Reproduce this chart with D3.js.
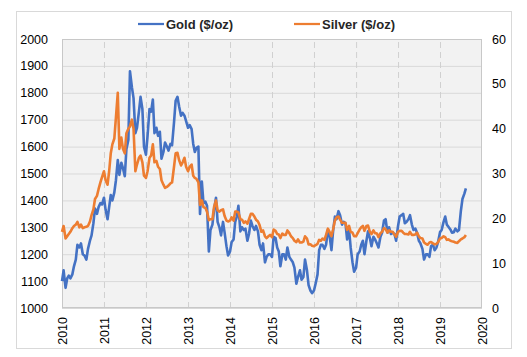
<!DOCTYPE html>
<html><head><meta charset="utf-8">
<script src="https://cdn.jsdelivr.net/npm/d3@7"></script>
<style>body{margin:0;background:#fff}svg{display:block}text{font-family:"Liberation Sans",Arial,sans-serif}</style>
</head><body><svg id="c" width="527" height="357"></svg>
<script>
const dates = [
"2010-01-01","2010-01-15","2010-02-01","2010-02-15","2010-03-01","2010-03-15","2010-04-01","2010-04-15","2010-05-01","2010-05-15","2010-06-01","2010-06-15","2010-07-01","2010-07-15","2010-08-01","2010-08-15","2010-09-01","2010-09-15","2010-10-01","2010-10-15","2010-11-01","2010-11-15","2010-12-01","2010-12-15",
"2011-01-01","2011-01-15","2011-02-01","2011-02-15","2011-03-01","2011-03-15","2011-04-01","2011-04-15","2011-05-01","2011-05-15","2011-06-01","2011-06-15","2011-07-01","2011-07-15","2011-08-01","2011-08-15","2011-09-01","2011-09-15","2011-10-01","2011-10-15","2011-11-01","2011-11-15","2011-12-01","2011-12-15",
"2012-01-01","2012-01-15","2012-02-01","2012-02-15","2012-03-01","2012-03-15","2012-04-01","2012-04-15","2012-05-01","2012-05-15","2012-06-01","2012-06-15","2012-07-01","2012-07-15","2012-08-01","2012-08-15","2012-09-01","2012-09-15","2012-10-01","2012-10-15","2012-11-01","2012-11-15","2012-12-01","2012-12-15",
"2013-01-01","2013-01-15","2013-02-01","2013-02-15","2013-03-01","2013-03-15","2013-04-01","2013-04-15","2013-05-01","2013-05-15","2013-06-01","2013-06-15","2013-07-01","2013-07-15","2013-08-01","2013-08-15","2013-09-01","2013-09-15","2013-10-01","2013-10-15","2013-11-01","2013-11-15","2013-12-01","2013-12-15",
"2014-01-01","2014-01-15","2014-02-01","2014-02-15","2014-03-01","2014-03-15","2014-04-01","2014-04-15","2014-05-01","2014-05-15","2014-06-01","2014-06-15","2014-07-01","2014-07-15","2014-08-01","2014-08-15","2014-09-01","2014-09-15","2014-10-01","2014-10-15","2014-11-01","2014-11-15","2014-12-01","2014-12-15",
"2015-01-01","2015-01-15","2015-02-01","2015-02-15","2015-03-01","2015-03-15","2015-04-01","2015-04-15","2015-05-01","2015-05-15","2015-06-01","2015-06-15","2015-07-01","2015-07-15","2015-08-01","2015-08-15","2015-09-01","2015-09-15","2015-10-01","2015-10-15","2015-11-01","2015-11-15","2015-12-01","2015-12-15",
"2016-01-01","2016-01-15","2016-02-01","2016-02-15","2016-03-01","2016-03-15","2016-04-01","2016-04-15","2016-05-01","2016-05-15","2016-06-01","2016-06-15","2016-07-01","2016-07-15","2016-08-01","2016-08-15","2016-09-01","2016-09-15","2016-10-01","2016-10-15","2016-11-01","2016-11-15","2016-12-01","2016-12-15",
"2017-01-01","2017-01-15","2017-02-01","2017-02-15","2017-03-01","2017-03-15","2017-04-01","2017-04-15","2017-05-01","2017-05-15","2017-06-01","2017-06-15","2017-07-01","2017-07-15","2017-08-01","2017-08-15","2017-09-01","2017-09-15","2017-10-01","2017-10-15","2017-11-01","2017-11-15","2017-12-01","2017-12-15",
"2018-01-01","2018-01-15","2018-02-01","2018-02-15","2018-03-01","2018-03-15","2018-04-01","2018-04-15","2018-05-01","2018-05-15","2018-06-01","2018-06-15","2018-07-01","2018-07-15","2018-08-01","2018-08-15","2018-09-01","2018-09-15","2018-10-01","2018-10-15","2018-11-01","2018-11-15","2018-12-01","2018-12-15",
"2019-01-01","2019-01-15","2019-02-01","2019-02-15","2019-03-01","2019-03-15","2019-04-01","2019-04-15","2019-05-01","2019-05-15","2019-06-01","2019-06-15","2019-07-01","2019-07-15","2019-08-01","2019-08-14"
];
const gold = [
1100,1140,1075,1110,1120,1110,1125,1155,1180,1235,1225,1240,1200,1195,1180,1220,1250,1270,1315,1370,1350,1375,1390,1385,
1410,1365,1330,1375,1420,1400,1430,1475,1550,1495,1540,1520,1490,1590,1625,1880,1820,1780,1650,1670,1730,1785,1740,1600,
1570,1640,1740,1730,1775,1650,1670,1640,1655,1555,1580,1615,1600,1585,1610,1605,1690,1770,1785,1750,1715,1725,1715,1695,
1670,1680,1665,1610,1580,1595,1600,1350,1470,1390,1395,1380,1210,1290,1310,1365,1410,1320,1300,1270,1320,1280,1230,1195,
1210,1245,1255,1320,1340,1380,1285,1300,1290,1295,1250,1275,1325,1305,1290,1305,1285,1235,1215,1240,1170,1190,1200,1200,
1190,1265,1260,1225,1210,1155,1200,1200,1180,1225,1190,1180,1170,1150,1090,1115,1140,1105,1115,1180,1140,1085,1065,1055,
1065,1090,1125,1215,1235,1235,1220,1235,1290,1270,1215,1285,1340,1330,1360,1345,1310,1320,1315,1255,1290,1225,1170,1135,
1150,1200,1210,1235,1250,1200,1250,1285,1260,1230,1265,1255,1240,1225,1265,1280,1325,1330,1280,1300,1275,1280,1275,1250,
1305,1340,1345,1350,1315,1320,1330,1345,1310,1290,1295,1280,1250,1240,1220,1180,1200,1200,1190,1230,1235,1215,1225,1245,
1282,1290,1320,1340,1310,1302,1292,1280,1282,1295,1285,1290,1360,1405,1425,1445
];
const silver = [
17.0,18.3,15.5,16.0,16.5,17.0,17.8,18.3,18.6,19.2,18.0,18.6,17.8,18.0,18.1,18.3,19.3,20.7,22.0,24.3,25.0,26.5,28.0,29.2,
30.5,28.5,27.5,30.5,34.5,36.5,37.8,42.5,48.0,35.5,38.0,35.5,34.5,39.0,40.0,40.5,42.0,40.0,30.5,32.0,33.5,34.0,32.5,29.5,
29.0,30.5,33.5,34.0,36.5,32.5,32.8,31.5,31.0,28.5,27.5,26.8,27.0,27.3,27.8,28.0,31.5,34.5,34.6,33.0,31.8,32.5,33.5,31.5,
30.5,31.5,32.0,29.5,29.0,28.8,28.0,23.0,24.0,22.5,22.3,21.5,19.6,19.8,19.8,22.5,24.0,21.8,21.5,21.8,22.0,20.5,19.5,19.3,
19.5,20.2,19.5,21.5,21.5,21.3,19.8,19.7,19.0,19.3,18.8,19.8,21.0,21.0,20.4,19.7,19.3,18.5,17.0,17.3,16.0,15.6,16.0,16.3,
15.8,17.5,17.2,16.5,16.4,15.6,16.6,16.3,16.3,17.3,16.7,16.0,15.6,15.0,14.7,15.3,14.6,14.6,14.8,16.0,15.5,14.2,14.2,13.9,
13.8,14.0,14.3,15.2,15.0,15.5,15.2,16.3,17.7,17.0,16.0,17.5,19.5,20.2,20.4,19.7,19.0,19.0,19.0,17.4,18.3,17.0,16.8,16.0,
16.0,16.7,17.5,18.0,18.3,17.2,18.3,18.4,17.0,16.5,17.3,16.7,16.6,15.8,16.7,17.0,17.8,17.6,16.8,17.3,17.0,17.0,16.4,15.9,
17.0,17.2,17.2,16.8,16.5,16.5,16.4,17.0,16.3,16.3,16.4,16.8,16.0,15.6,15.5,14.6,14.3,14.1,14.6,14.7,14.4,14.2,14.3,14.7,
15.5,15.6,16.0,15.8,15.2,15.3,15.0,14.9,14.8,14.6,14.5,14.9,15.3,15.5,15.8,16.3
];
const leftTicks = [1000,1100,1200,1300,1400,1500,1600,1700,1800,1900,2000];
const rightTicks = [0,10,20,30,40,50,60];
const yearLabels = ["2010","2011","2012","2013","2014","2015","2016","2017","2018","2019","2020"];
const seriesNames = ["Gold ($/oz)","Silver ($/oz)"];
const colors = ["#4472C4","#ED7D31"];

const svg = d3.select("#c");
const parse = d3.timeParse("%Y-%m-%d");
const L = 62, R = 482, T = 39, B = 308;

svg.append("rect").attr("x",16.5).attr("y",11.5).attr("width",495).attr("height",337)
  .attr("fill","#fff").attr("stroke","#d9d9d9");

const x = d3.scaleTime().domain([parse("2010-01-01"), parse("2020-01-01")]).range([L,R]);
const yL = d3.scaleLinear().domain([1000,2000]).range([B,T]);
const yR = d3.scaleLinear().domain([0,60]).range([B,T]);

svg.append("rect").attr("x",L).attr("y",T).attr("width",R-L).attr("height",B-T).attr("fill","#f2f2f2");

svg.append("g").attr("transform",`translate(${L},0)`)
  .call(d3.axisLeft(yL).tickValues(leftTicks).tickSize(-(R-L)).tickFormat(""))
  .call(g=>{g.select(".domain").remove(); g.selectAll("line").attr("stroke","#d9d9d9");});

const yearDates = yearLabels.map(y=>parse(y+"-01-01"));
svg.append("g").attr("transform",`translate(0,${B})`)
  .call(d3.axisBottom(x).tickValues(yearDates.slice(1,-1)).tickSize(-(B-T)).tickFormat(""))
  .call(g=>{g.select(".domain").remove(); g.selectAll("line").attr("stroke","#d0d0d0").attr("stroke-dasharray","6,4");});

svg.append("rect").attr("x",L+0.5).attr("y",T+0.5).attr("width",R-L-1).attr("height",B-T-1)
  .attr("fill","none").attr("stroke","#c8c8c8");

svg.append("g").attr("transform",`translate(${L},0)`)
  .call(d3.axisLeft(yL).tickValues(leftTicks).tickSize(0).tickPadding(14).tickFormat(d3.format("d")))
  .call(g=>{g.select(".domain").remove(); g.selectAll("text").attr("font-size","12.5px").attr("fill","#000").attr("font-family","'Liberation Sans',Arial,sans-serif");});

svg.append("g").attr("transform",`translate(${R},0)`)
  .call(d3.axisRight(yR).tickValues(rightTicks).tickSize(0).tickPadding(10).tickFormat(d3.format("d")))
  .call(g=>{g.select(".domain").remove(); g.selectAll("text").attr("font-size","12.5px").attr("fill","#000").attr("font-family","'Liberation Sans',Arial,sans-serif");});

svg.append("g").attr("transform",`translate(0,${B})`)
  .call(d3.axisBottom(x).tickValues(yearDates).tickSize(0).tickFormat((d,i)=>yearLabels[i]))
  .call(g=>{g.select(".domain").remove();
    g.selectAll("text").attr("font-size","12.5px").attr("fill","#000").attr("font-family","'Liberation Sans',Arial,sans-serif")
     .attr("text-anchor","end").attr("dy","0.35em").attr("transform","translate(0,9) rotate(-90)").attr("x",0).attr("y",0);});

const pts = dates.map((d,i)=>({d:parse(d), g:gold[i], s:silver[i]}));
const lineG = d3.line().x(p=>x(p.d)).y(p=>yL(p.g));
const lineS = d3.line().x(p=>x(p.d)).y(p=>yR(p.s));
svg.append("path").datum(pts).attr("d",lineG).attr("fill","none").attr("stroke",colors[0]).attr("stroke-width",2.6).attr("stroke-linejoin","round");
svg.append("path").datum(pts).attr("d",lineS).attr("fill","none").attr("stroke",colors[1]).attr("stroke-width",2.6).attr("stroke-linejoin","round");

const leg = [{x:138},{x:294}];
leg.forEach((l,i)=>{
  svg.append("line").attr("x1",l.x).attr("x2",l.x+26).attr("y1",24).attr("y2",24).attr("stroke",colors[i]).attr("stroke-width",2.25);
  svg.append("text").attr("x",l.x+28).attr("y",28.5).attr("font-size","13px").attr("font-weight","bold").attr("fill","#262626").text(seriesNames[i]);
});
</script></body></html>
